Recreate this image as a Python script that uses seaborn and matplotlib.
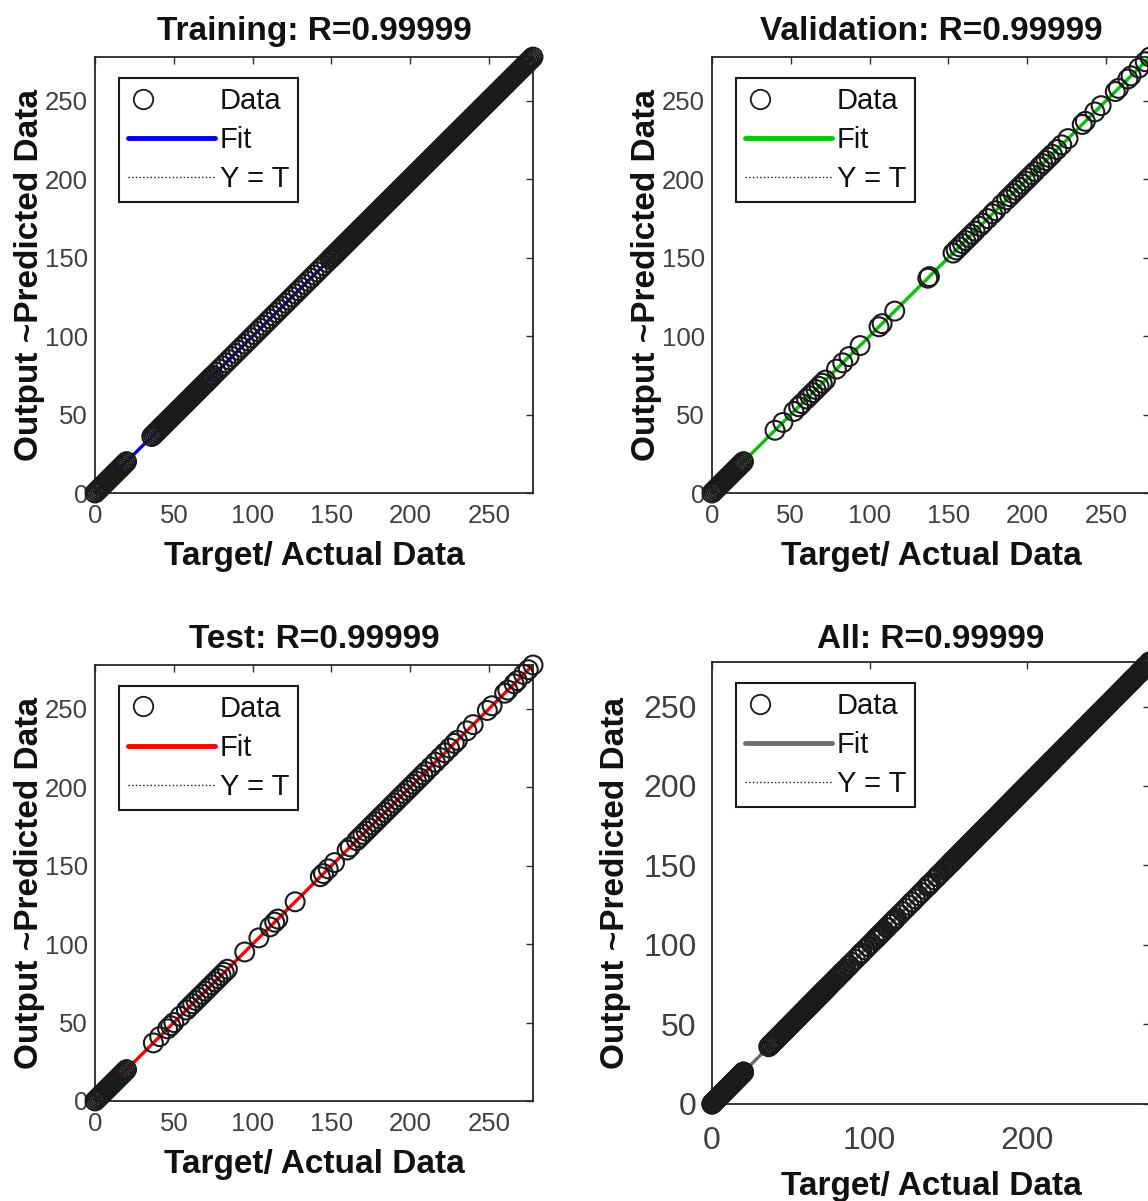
import matplotlib
matplotlib.use("Agg")
import matplotlib.pyplot as plt
import seaborn as sns
from matplotlib.lines import Line2D
from matplotlib.legend_handler import HandlerLine2D

# Target values (outputs sit on Y = T, R=0.99999)
train_low = [0, 1, 2, 3, 4, 5, 6, 7, 8, 9, 10, 11, 12, 13, 14, 15, 16, 17, 18, 19, 20]
train_mid = [36, 37, 38, 39, 40, 41, 42, 43, 44, 45, 46, 47, 48, 49, 50, 51, 52, 53,
             54, 55, 56, 57, 58, 59, 60, 61, 62, 63, 64, 65, 66, 67, 68, 69, 70, 71,
             72, 73, 74, 75]
train_sparse = [77, 79, 81, 83, 85, 87, 89, 91, 93, 95, 97, 99, 101, 103, 105, 107,
                109, 111, 113, 115, 117, 119, 121, 123, 125, 127, 129, 131, 133, 135,
                137, 139, 141, 143, 145, 147, 149]
train_high = [150, 151, 152, 153, 154, 155, 156, 157, 158, 159, 160, 161, 162, 163,
              164, 165, 166, 167, 168, 169, 170, 171, 172, 173, 174, 175, 176, 177,
              178, 179, 180, 181, 182, 183, 184, 185, 186, 187, 188, 189, 190, 191,
              192, 193, 194, 195, 196, 197, 198, 199, 200, 201, 202, 203, 204, 205,
              206, 207, 208, 209, 210, 211, 212, 213, 214, 215, 216, 217, 218, 219,
              220, 221, 222, 223, 224, 225, 226, 227, 228, 229, 230, 231, 232, 233,
              234, 235, 236, 237, 238, 239, 240, 241, 242, 243, 244, 245, 246, 247,
              248, 249, 250, 251, 252, 253, 254, 255, 256, 257, 258, 259, 260, 261,
              262, 263, 264, 265, 266, 267, 268, 269, 270, 271, 272, 273, 274, 275,
              276, 277, 278]

val_low = [0, 1, 2, 3, 4, 5, 6, 7, 8, 9, 10, 11, 12, 13, 14, 15, 16, 17, 18, 19, 20]
val_rest = [40, 45, 52, 55, 57, 60, 62, 64, 66, 68, 70, 72, 79, 83, 87, 94, 106, 108,
            116, 137, 138, 153, 155, 157, 159, 161, 163, 165, 167, 170, 172, 175, 178,
            180, 184, 187, 189, 191, 193, 195, 197, 199, 201, 203, 205, 208, 210, 212,
            214, 216, 219, 222, 226, 235, 237, 243, 247, 256, 258, 264, 266, 271, 275, 278]

test_low = [0, 1, 2, 3, 4, 5, 6, 7, 8, 9, 10, 11, 12, 13, 14, 15, 16, 17, 18, 19, 20]
test_rest = [37, 41, 46, 48, 50, 54, 58, 60, 62, 64, 66, 68, 70, 72, 74, 76, 78, 80,
             82, 84, 95, 104, 111, 114, 116, 127, 143, 145, 148, 152, 160, 162, 166,
             168, 170, 172, 174, 176, 178, 180, 182, 184, 186, 188, 190, 192, 194, 196,
             198, 200, 202, 204, 206, 208, 210, 213, 216, 219, 222, 225, 228, 230, 236,
             240, 249, 252, 260, 262, 266, 268, 272, 275, 278]

train = train_low + train_mid + train_sparse + train_high
val = val_low + val_rest
test = test_low + test_rest
all_data = train + val + test

titles = ["Training: R=0.99999", "Validation: R=0.99999", "Test: R=0.99999", "All: R=0.99999"]
fit_colors = ["#0000e6", "#00c800", "#ff0000", "#6e6e6e"]


class LeftMarkerHandler(HandlerLine2D):
    # MATLAB style legend: the circle sits near the left end of the icon
    def get_xdata(self, legend, xdescent, ydescent, width, height, fontsize):
        m = -xdescent + 0.17 * width
        return [m, m], [m]


sns.set_theme(style="white")
plt.rcParams['font.family'] = ['Liberation Sans', 'DejaVu Sans']

fig = plt.figure(figsize=(11.48, 12.01), dpi=100)

positions = [
    [0.0828, 0.5895, 0.3815, 0.363],
    [0.6202, 0.5895, 0.3815, 0.363],
    [0.0828, 0.0833, 0.3815, 0.363],
    [0.6202, 0.0808, 0.3815, 0.368],
]
datasets = [train, val, test, all_data]


def draw_panel(ax, data, color, title, big=False):
    lo, hi = min(data), max(data)
    ax.plot([lo, hi], [lo, hi], ls=':', color='k', lw=1.0, zorder=1)
    sns.regplot(x=data, y=data, ax=ax, scatter=False, ci=None, truncate=True,
                color=color, line_kws=dict(lw=2.4, zorder=2))
    sns.scatterplot(x=data, y=data, ax=ax, marker='o', s=185, facecolor='none',
                    edgecolor='k', linewidth=1.5, clip_on=False, zorder=3)
    ax.set_xlim(lo, hi)
    ax.set_ylim(lo, hi)

    if big:
        ax.set_xticks([0, 100, 200])
        lab = 23
        xtpad, ytpad = 16, 11
        xpad, ypad = 11, 9
        tpad = 10
    else:
        ax.set_xticks([0, 50, 100, 150, 200, 250])
        lab = 18.5
        xtpad, ytpad = 8, 5
        xpad, ypad = 9.5, 0
        tpad = 12
    ax.set_yticks([0, 50, 100, 150, 200, 250])
    ax.tick_params(direction='in', length=5, width=1, top=True, right=True,
                   labelsize=lab, labelcolor='#404040', color='#303030')
    ax.tick_params(axis='x', pad=xtpad)
    ax.tick_params(axis='y', pad=ytpad)
    for sp in ax.spines.values():
        sp.set_visible(True)
        sp.set_color('#262626')
        sp.set_linewidth(1.3)

    ax.set_title(title, fontsize=24, fontweight='bold', pad=tpad, color='#111111')
    ax.set_xlabel("Target/ Actual Data", fontsize=24, fontweight='bold',
                  labelpad=xpad, color='#111111')
    ax.set_ylabel("Output ~Predicted Data", fontsize=24, fontweight='bold',
                  labelpad=ypad, color='#111111')

    data_handle = Line2D([], [], marker='o', ls='none', mfc='none', mec='k', ms=14, mew=1.3)
    handles = [
        data_handle,
        Line2D([], [], color=color, lw=3.5),
        Line2D([], [], color='k', ls=':', lw=1.0),
    ]
    leg = ax.legend(handles, ["Data", "Fit", "Y = T"], loc='upper left',
                    bbox_to_anchor=(0.055, 0.952), borderaxespad=0, fancybox=False,
                    edgecolor='k', framealpha=1, fontsize=21, handlelength=3.0,
                    handletextpad=0.15, labelspacing=0.38, borderpad=0.3,
                    handler_map={data_handle: LeftMarkerHandler()})
    leg.get_frame().set_linewidth(1.5)
    for t in leg.get_texts():
        t.set_color('#111111')


for i in range(4):
    ax = fig.add_axes(positions[i])
    draw_panel(ax, datasets[i], fit_colors[i], titles[i], big=(i == 3))

fig.savefig("out.png", dpi=100)
